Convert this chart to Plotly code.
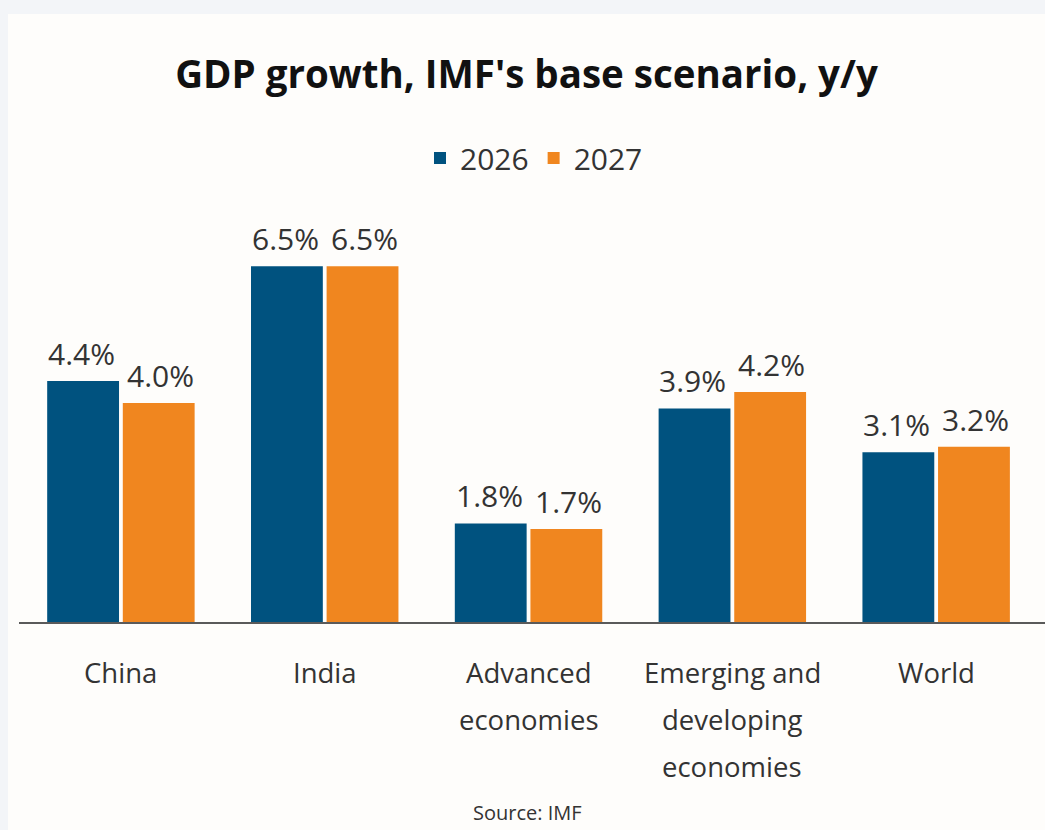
import plotly.graph_objects as go

categories = ["China", "India", "Advanced economies", "Emerging and developing economies", "World"]
category_lines = [["China"], ["India"], ["Advanced", "economies"],
                  ["Emerging and", "developing", "economies"], ["World"]]
series_names = ["2026", "2027"]
values_2026 = [4.4, 6.5, 1.8, 3.9, 3.1]
values_2027 = [4.0, 6.5, 1.7, 4.2, 3.2]

BLUE = "#00527f"
ORANGE = "#f0861f"
TEXT = "#333333"
FONT = "Open Sans"

W, H = 1045, 830
ML, MR, MT, MB = 19, 0, 184, 208
X_RANGE = [-0.5, 4.534]

pw = W - ML - MR
ph = H - MT - MB


def px_x(px):
    return (px - ML) / pw


def px_y(py):
    return (H - MB - py) / ph


fig = go.Figure()
for name, vals, col in [(series_names[0], values_2026, BLUE), (series_names[1], values_2027, ORANGE)]:
    fig.add_trace(go.Bar(name=name, x=categories, y=vals, marker=dict(color=col, line=dict(width=0)),
                         hoverinfo="skip"))

annotations = []
# value labels
for vals, shift in [(values_2026, -39.5), (values_2027, 39.5)]:
    for c, v in zip(categories, vals):
        annotations.append(dict(x=c, y=v, xref="x", yref="y", text=f"{v:.1f}%", showarrow=False,
                                xshift=shift, yshift=5, yanchor="bottom",
                                font=dict(family=FONT, size=30, color=TEXT)))
# category labels
for c, lines in zip(categories, category_lines):
    for i, line in enumerate(lines):
        annotations.append(dict(x=c, y=0, xref="x", yref="y", text=line, showarrow=False,
                                yshift=-50 - 47 * i, yanchor="middle",
                                font=dict(family=FONT, size=27.5, color=TEXT)))
annotations.append(dict(x=px_x(527), y=px_y(812), xref="paper", yref="paper", text="Source: IMF",
                        showarrow=False, yanchor="middle",
                        font=dict(family=FONT, size=20, color=TEXT)))

fig.update_layout(
    width=W, height=H,
    margin=dict(l=ML, r=MR, t=MT, b=MB, pad=0),
    paper_bgcolor="#f3f5f8",
    plot_bgcolor="rgba(0,0,0,0)",
    barmode="group", bargap=0.258, bargroupgap=0.05,
    title=dict(text="<b>GDP growth, IMF's base scenario, y/y</b>", x=0.5 * (1 + 8 / W), xanchor="center",
               y=1 - 75 / H, yanchor="middle", font=dict(family=FONT, size=38.5, color="#111111")),
    legend=dict(orientation="h", x=px_x(534), xanchor="center", y=px_y(158), yanchor="middle",
                font=dict(family=FONT, size=30, color=TEXT), bgcolor="rgba(0,0,0,0)",
                itemwidth=30, traceorder="normal"),
    showlegend=True,
    annotations=annotations,
    shapes=[dict(type="rect", xref="paper", yref="paper", x0=px_x(8), x1=px_x(W + 5),
                 y0=px_y(H + 5), y1=px_y(14), fillcolor="#fefdfb", line=dict(width=0), layer="below")],
    xaxis=dict(range=X_RANGE, showticklabels=False, showline=True, linecolor="#5a5a5a", linewidth=2,
               ticks="", showgrid=False, zeroline=False, fixedrange=True),
    yaxis=dict(range=[0, 8], visible=False, showgrid=False, zeroline=False, fixedrange=True),
)

fig.write_html("out.html", config={"displayModeBar": False},
               post_script="document.body.style.margin='0';document.body.style.overflow='hidden';")
